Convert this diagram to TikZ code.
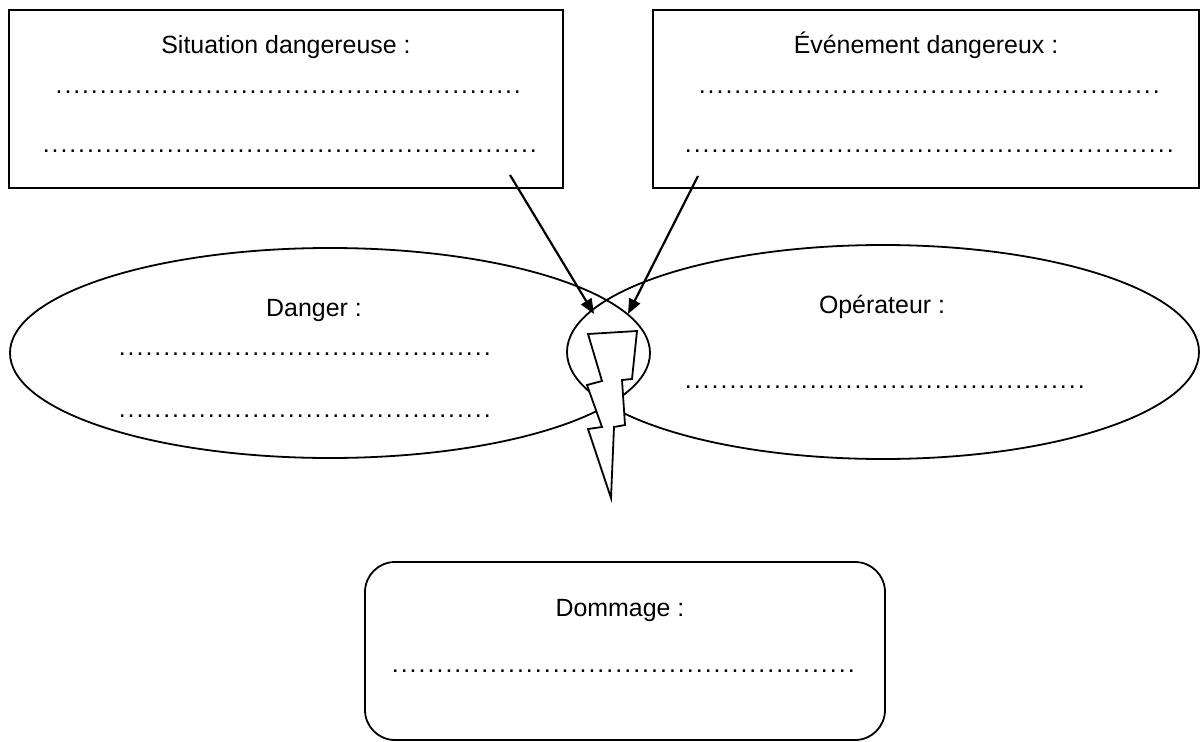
\documentclass[tikz,border=0pt]{standalone}
\usepackage{fontspec}
\setmainfont{Liberation Sans}
\usetikzlibrary{shapes.geometric,arrows.meta}
\newcommand\dotrow[1]{\hbox to #1{\xleaders\hbox to 8.8bp{\hss.\hss}\hfill}}
\tikzset{
  frame/.style={draw, line width=1.8bp, inner sep=0pt},
  oval/.style={draw, ellipse, line width=1.8bp, inner sep=0pt},
  title/.style={anchor=base, inner sep=0pt, font=\fontsize{25}{30}\selectfont},
  dots/.style={anchor=base west, inner sep=0pt, font=\fontsize{25}{30}\selectfont},
  pointer/.style={line width=2.2bp, -{Triangle[length=15bp, width=12bp]}},
  bolt/.style={draw, fill=white, line width=1.8bp, line join=miter}
}
\begin{document}
\begin{tikzpicture}[x=1bp, y=-1bp]
\useasboundingbox (0,0) rectangle (1200,742);
% boxes
\node[frame, minimum width=554bp, minimum height=178bp] (sit) at (286,99) {};
\node[frame, minimum width=546bp, minimum height=178bp] (evt) at (926,99) {};
\node[frame, rounded corners=30bp, minimum width=520bp, minimum height=178bp] (dom) at (625,651) {};
% ellipses
\node[oval, minimum width=640bp, minimum height=210bp] (dan) at (330,353) {};
\node[oval, minimum width=632bp, minimum height=214bp] (ope) at (883,352) {};
% texts
\node[title] (tsit) at (286,54) {Situation dangereuse :};
\node[title] (tevt) at (926,54) {Événement dangereux :};
\node[title] (tdan) at (314,316) {Danger :};
\node[title] (tope) at (882,313) {Opérateur :};
\node[title] (tdom) at (620,616) {Dommage :};
\node[dots] (d1) at (54.6,94) {\dotrow{466.8bp}};
\node[dots] (d2) at (41.6,152) {\dotrow{495.8bp}};
\node[dots] (d3) at (697.6,94) {\dotrow{462.8bp}};
\node[dots] (d4) at (683.6,152) {\dotrow{490.8bp}};
\node[dots] (d5) at (117.6,355) {\dotrow{373.8bp}};
\node[dots] (d6) at (117.6,417) {\dotrow{373.8bp}};
\node[dots] (d7) at (683.6,388) {\dotrow{401.8bp}};
\node[dots] (d8) at (390.6,672) {\dotrow{464.8bp}};
% arrows
\coordinate (s1) at (510,175);
\coordinate (e1) at (594,314);
\coordinate (s2) at (698,176);
\coordinate (e2) at (628,314);
\draw[pointer] (s1) -- (e1);
\draw[pointer] (s2) -- (e2);
% lightning
\draw[bolt] (588,334) -- (637,331) -- (632,379) -- (622,380) -- (625,425) -- (614,427) -- (611,498) -- (588,429) -- (602,427) -- (587,385) -- (602,381) -- cycle;
\end{tikzpicture}
\end{document}
